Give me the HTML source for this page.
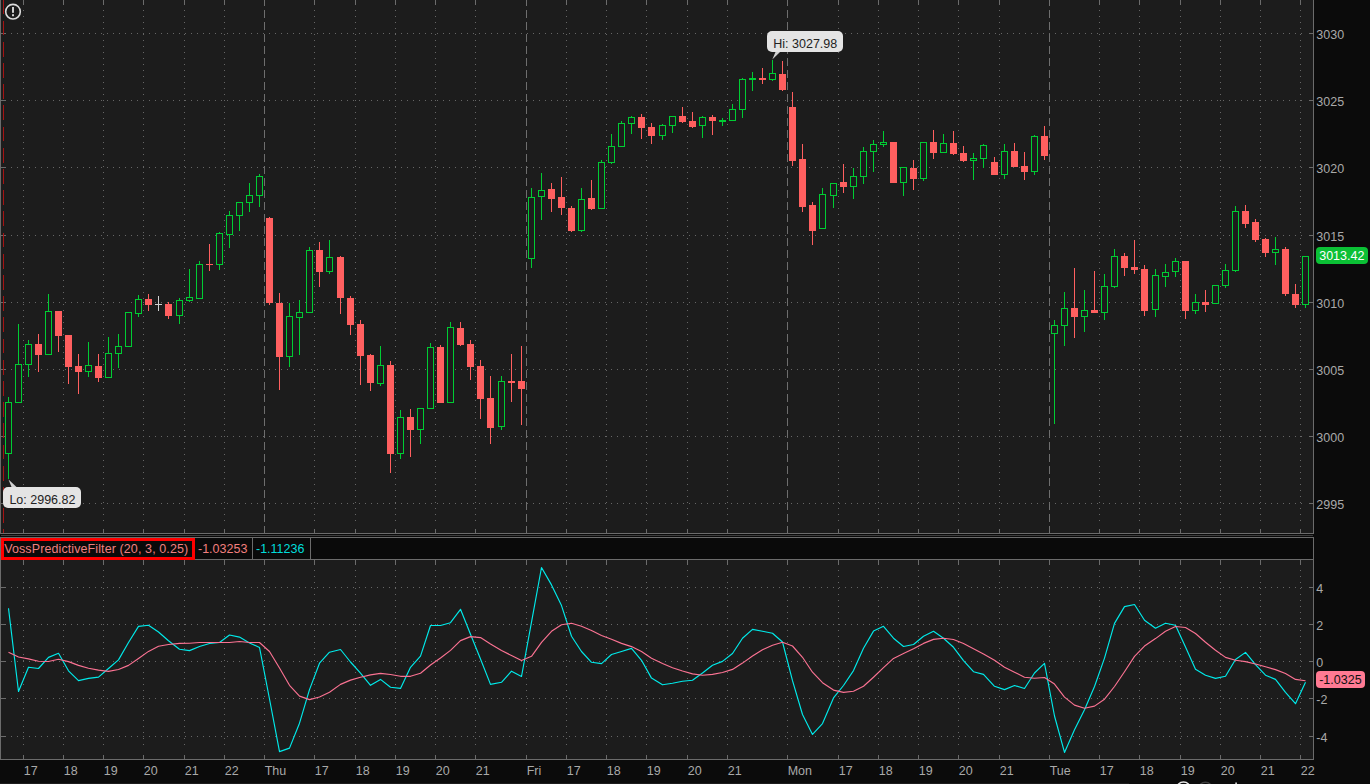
<!DOCTYPE html>
<html><head><meta charset="utf-8"><title>chart</title>
<style>html,body{margin:0;padding:0;background:#0b0b0b;width:1370px;height:784px;overflow:hidden;font-family:"Liberation Sans",sans-serif}</style>
</head><body>
<svg width="1370" height="784" viewBox="0 0 1370 784" style="position:absolute;left:0;top:0">
<rect x="0" y="0" width="1370" height="784" fill="#0b0b0b"/>
<g shape-rendering="crispEdges">
<rect x="0" y="0" width="1314" height="534" fill="#1c1c1c"/>
<rect x="0" y="560" width="1314" height="200" fill="#1c1c1c"/>
<rect x="0" y="537" width="1314" height="23" fill="#0a0a0a"/>
<rect x="0" y="534" width="1314" height="3" fill="#0a0a0a"/>
<rect x="1" y="535" width="1312" height="1" fill="#3c3c3c"/>
<rect x="0" y="0" width="1" height="534" fill="#6b6b6b"/>
<rect x="1313" y="0" width="1" height="534" fill="#6b6b6b"/>
<rect x="0" y="533" width="1314" height="1" fill="#6b6b6b"/>
<rect x="0" y="537" width="1314" height="1" fill="#6b6b6b"/>
<rect x="0" y="559" width="1314" height="1" fill="#6b6b6b"/>
<rect x="0" y="537" width="1" height="223" fill="#6b6b6b"/>
<rect x="1313" y="537" width="1" height="223" fill="#6b6b6b"/>
<rect x="0" y="759" width="1314" height="1" fill="#6b6b6b"/>
<rect x="252" y="538" width="1" height="21" fill="#6b6b6b"/>
<rect x="310" y="538" width="1" height="21" fill="#6b6b6b"/>
<rect x="0" y="783" width="1129" height="1" fill="#1c1c1c"/>
<rect x="23" y="0" width="1" height="5" fill="#6b6b6b"/>
<line x1="23.5" y1="10" x2="23.5" y2="521" stroke="#666666" stroke-width="1" stroke-dasharray="1 5"/>
<rect x="23" y="529" width="1" height="4" fill="#6b6b6b"/>
<rect x="23" y="560" width="1" height="5" fill="#6b6b6b"/>
<line x1="23.5" y1="570" x2="23.5" y2="745" stroke="#666666" stroke-width="1" stroke-dasharray="1 5"/>
<rect x="23" y="755" width="1" height="4" fill="#6b6b6b"/>
<rect x="63" y="0" width="1" height="5" fill="#6b6b6b"/>
<line x1="63.5" y1="10" x2="63.5" y2="521" stroke="#666666" stroke-width="1" stroke-dasharray="1 5"/>
<rect x="63" y="529" width="1" height="4" fill="#6b6b6b"/>
<rect x="63" y="560" width="1" height="5" fill="#6b6b6b"/>
<line x1="63.5" y1="570" x2="63.5" y2="745" stroke="#666666" stroke-width="1" stroke-dasharray="1 5"/>
<rect x="63" y="755" width="1" height="4" fill="#6b6b6b"/>
<rect x="103" y="0" width="1" height="5" fill="#6b6b6b"/>
<line x1="103.5" y1="10" x2="103.5" y2="521" stroke="#666666" stroke-width="1" stroke-dasharray="1 5"/>
<rect x="103" y="529" width="1" height="4" fill="#6b6b6b"/>
<rect x="103" y="560" width="1" height="5" fill="#6b6b6b"/>
<line x1="103.5" y1="570" x2="103.5" y2="745" stroke="#666666" stroke-width="1" stroke-dasharray="1 5"/>
<rect x="103" y="755" width="1" height="4" fill="#6b6b6b"/>
<rect x="143" y="0" width="1" height="5" fill="#6b6b6b"/>
<line x1="143.5" y1="10" x2="143.5" y2="521" stroke="#666666" stroke-width="1" stroke-dasharray="1 5"/>
<rect x="143" y="529" width="1" height="4" fill="#6b6b6b"/>
<rect x="143" y="560" width="1" height="5" fill="#6b6b6b"/>
<line x1="143.5" y1="570" x2="143.5" y2="745" stroke="#666666" stroke-width="1" stroke-dasharray="1 5"/>
<rect x="143" y="755" width="1" height="4" fill="#6b6b6b"/>
<rect x="184" y="0" width="1" height="5" fill="#6b6b6b"/>
<line x1="184.5" y1="10" x2="184.5" y2="521" stroke="#666666" stroke-width="1" stroke-dasharray="1 5"/>
<rect x="184" y="529" width="1" height="4" fill="#6b6b6b"/>
<rect x="184" y="560" width="1" height="5" fill="#6b6b6b"/>
<line x1="184.5" y1="570" x2="184.5" y2="745" stroke="#666666" stroke-width="1" stroke-dasharray="1 5"/>
<rect x="184" y="755" width="1" height="4" fill="#6b6b6b"/>
<rect x="224" y="0" width="1" height="5" fill="#6b6b6b"/>
<line x1="224.5" y1="10" x2="224.5" y2="521" stroke="#666666" stroke-width="1" stroke-dasharray="1 5"/>
<rect x="224" y="529" width="1" height="4" fill="#6b6b6b"/>
<rect x="224" y="560" width="1" height="5" fill="#6b6b6b"/>
<line x1="224.5" y1="570" x2="224.5" y2="745" stroke="#666666" stroke-width="1" stroke-dasharray="1 5"/>
<rect x="224" y="755" width="1" height="4" fill="#6b6b6b"/>
<line x1="264.5" y1="0" x2="264.5" y2="533" stroke="#6e6e6e" stroke-width="1" stroke-dasharray="8 4" stroke-dashoffset="2.5"/>
<rect x="264" y="560" width="1" height="5" fill="#6b6b6b"/>
<line x1="264.5" y1="570" x2="264.5" y2="745" stroke="#666666" stroke-width="1" stroke-dasharray="1 5"/>
<rect x="264" y="755" width="1" height="4" fill="#6b6b6b"/>
<rect x="314" y="0" width="1" height="5" fill="#6b6b6b"/>
<line x1="314.5" y1="10" x2="314.5" y2="521" stroke="#666666" stroke-width="1" stroke-dasharray="1 5"/>
<rect x="314" y="529" width="1" height="4" fill="#6b6b6b"/>
<rect x="314" y="560" width="1" height="5" fill="#6b6b6b"/>
<line x1="314.5" y1="570" x2="314.5" y2="745" stroke="#666666" stroke-width="1" stroke-dasharray="1 5"/>
<rect x="314" y="755" width="1" height="4" fill="#6b6b6b"/>
<rect x="355" y="0" width="1" height="5" fill="#6b6b6b"/>
<line x1="355.5" y1="10" x2="355.5" y2="521" stroke="#666666" stroke-width="1" stroke-dasharray="1 5"/>
<rect x="355" y="529" width="1" height="4" fill="#6b6b6b"/>
<rect x="355" y="560" width="1" height="5" fill="#6b6b6b"/>
<line x1="355.5" y1="570" x2="355.5" y2="745" stroke="#666666" stroke-width="1" stroke-dasharray="1 5"/>
<rect x="355" y="755" width="1" height="4" fill="#6b6b6b"/>
<rect x="395" y="0" width="1" height="5" fill="#6b6b6b"/>
<line x1="395.5" y1="10" x2="395.5" y2="521" stroke="#666666" stroke-width="1" stroke-dasharray="1 5"/>
<rect x="395" y="529" width="1" height="4" fill="#6b6b6b"/>
<rect x="395" y="560" width="1" height="5" fill="#6b6b6b"/>
<line x1="395.5" y1="570" x2="395.5" y2="745" stroke="#666666" stroke-width="1" stroke-dasharray="1 5"/>
<rect x="395" y="755" width="1" height="4" fill="#6b6b6b"/>
<rect x="435" y="0" width="1" height="5" fill="#6b6b6b"/>
<line x1="435.5" y1="10" x2="435.5" y2="521" stroke="#666666" stroke-width="1" stroke-dasharray="1 5"/>
<rect x="435" y="529" width="1" height="4" fill="#6b6b6b"/>
<rect x="435" y="560" width="1" height="5" fill="#6b6b6b"/>
<line x1="435.5" y1="570" x2="435.5" y2="745" stroke="#666666" stroke-width="1" stroke-dasharray="1 5"/>
<rect x="435" y="755" width="1" height="4" fill="#6b6b6b"/>
<rect x="475" y="0" width="1" height="5" fill="#6b6b6b"/>
<line x1="475.5" y1="10" x2="475.5" y2="521" stroke="#666666" stroke-width="1" stroke-dasharray="1 5"/>
<rect x="475" y="529" width="1" height="4" fill="#6b6b6b"/>
<rect x="475" y="560" width="1" height="5" fill="#6b6b6b"/>
<line x1="475.5" y1="570" x2="475.5" y2="745" stroke="#666666" stroke-width="1" stroke-dasharray="1 5"/>
<rect x="475" y="755" width="1" height="4" fill="#6b6b6b"/>
<line x1="526.5" y1="0" x2="526.5" y2="533" stroke="#6e6e6e" stroke-width="1" stroke-dasharray="8 4" stroke-dashoffset="2.5"/>
<rect x="526" y="560" width="1" height="5" fill="#6b6b6b"/>
<line x1="526.5" y1="570" x2="526.5" y2="745" stroke="#666666" stroke-width="1" stroke-dasharray="1 5"/>
<rect x="526" y="755" width="1" height="4" fill="#6b6b6b"/>
<rect x="566" y="0" width="1" height="5" fill="#6b6b6b"/>
<line x1="566.5" y1="10" x2="566.5" y2="521" stroke="#666666" stroke-width="1" stroke-dasharray="1 5"/>
<rect x="566" y="529" width="1" height="4" fill="#6b6b6b"/>
<rect x="566" y="560" width="1" height="5" fill="#6b6b6b"/>
<line x1="566.5" y1="570" x2="566.5" y2="745" stroke="#666666" stroke-width="1" stroke-dasharray="1 5"/>
<rect x="566" y="755" width="1" height="4" fill="#6b6b6b"/>
<rect x="606" y="0" width="1" height="5" fill="#6b6b6b"/>
<line x1="606.5" y1="10" x2="606.5" y2="521" stroke="#666666" stroke-width="1" stroke-dasharray="1 5"/>
<rect x="606" y="529" width="1" height="4" fill="#6b6b6b"/>
<rect x="606" y="560" width="1" height="5" fill="#6b6b6b"/>
<line x1="606.5" y1="570" x2="606.5" y2="745" stroke="#666666" stroke-width="1" stroke-dasharray="1 5"/>
<rect x="606" y="755" width="1" height="4" fill="#6b6b6b"/>
<rect x="646" y="0" width="1" height="5" fill="#6b6b6b"/>
<line x1="646.5" y1="10" x2="646.5" y2="521" stroke="#666666" stroke-width="1" stroke-dasharray="1 5"/>
<rect x="646" y="529" width="1" height="4" fill="#6b6b6b"/>
<rect x="646" y="560" width="1" height="5" fill="#6b6b6b"/>
<line x1="646.5" y1="570" x2="646.5" y2="745" stroke="#666666" stroke-width="1" stroke-dasharray="1 5"/>
<rect x="646" y="755" width="1" height="4" fill="#6b6b6b"/>
<rect x="687" y="0" width="1" height="5" fill="#6b6b6b"/>
<line x1="687.5" y1="10" x2="687.5" y2="521" stroke="#666666" stroke-width="1" stroke-dasharray="1 5"/>
<rect x="687" y="529" width="1" height="4" fill="#6b6b6b"/>
<rect x="687" y="560" width="1" height="5" fill="#6b6b6b"/>
<line x1="687.5" y1="570" x2="687.5" y2="745" stroke="#666666" stroke-width="1" stroke-dasharray="1 5"/>
<rect x="687" y="755" width="1" height="4" fill="#6b6b6b"/>
<rect x="727" y="0" width="1" height="5" fill="#6b6b6b"/>
<line x1="727.5" y1="10" x2="727.5" y2="521" stroke="#666666" stroke-width="1" stroke-dasharray="1 5"/>
<rect x="727" y="529" width="1" height="4" fill="#6b6b6b"/>
<rect x="727" y="560" width="1" height="5" fill="#6b6b6b"/>
<line x1="727.5" y1="570" x2="727.5" y2="745" stroke="#666666" stroke-width="1" stroke-dasharray="1 5"/>
<rect x="727" y="755" width="1" height="4" fill="#6b6b6b"/>
<line x1="787.5" y1="0" x2="787.5" y2="533" stroke="#6e6e6e" stroke-width="1" stroke-dasharray="8 4" stroke-dashoffset="2.5"/>
<rect x="787" y="560" width="1" height="5" fill="#6b6b6b"/>
<line x1="787.5" y1="570" x2="787.5" y2="745" stroke="#666666" stroke-width="1" stroke-dasharray="1 5"/>
<rect x="787" y="755" width="1" height="4" fill="#6b6b6b"/>
<rect x="838" y="0" width="1" height="5" fill="#6b6b6b"/>
<line x1="838.5" y1="10" x2="838.5" y2="521" stroke="#666666" stroke-width="1" stroke-dasharray="1 5"/>
<rect x="838" y="529" width="1" height="4" fill="#6b6b6b"/>
<rect x="838" y="560" width="1" height="5" fill="#6b6b6b"/>
<line x1="838.5" y1="570" x2="838.5" y2="745" stroke="#666666" stroke-width="1" stroke-dasharray="1 5"/>
<rect x="838" y="755" width="1" height="4" fill="#6b6b6b"/>
<rect x="878" y="0" width="1" height="5" fill="#6b6b6b"/>
<line x1="878.5" y1="10" x2="878.5" y2="521" stroke="#666666" stroke-width="1" stroke-dasharray="1 5"/>
<rect x="878" y="529" width="1" height="4" fill="#6b6b6b"/>
<rect x="878" y="560" width="1" height="5" fill="#6b6b6b"/>
<line x1="878.5" y1="570" x2="878.5" y2="745" stroke="#666666" stroke-width="1" stroke-dasharray="1 5"/>
<rect x="878" y="755" width="1" height="4" fill="#6b6b6b"/>
<rect x="918" y="0" width="1" height="5" fill="#6b6b6b"/>
<line x1="918.5" y1="10" x2="918.5" y2="521" stroke="#666666" stroke-width="1" stroke-dasharray="1 5"/>
<rect x="918" y="529" width="1" height="4" fill="#6b6b6b"/>
<rect x="918" y="560" width="1" height="5" fill="#6b6b6b"/>
<line x1="918.5" y1="570" x2="918.5" y2="745" stroke="#666666" stroke-width="1" stroke-dasharray="1 5"/>
<rect x="918" y="755" width="1" height="4" fill="#6b6b6b"/>
<rect x="958" y="0" width="1" height="5" fill="#6b6b6b"/>
<line x1="958.5" y1="10" x2="958.5" y2="521" stroke="#666666" stroke-width="1" stroke-dasharray="1 5"/>
<rect x="958" y="529" width="1" height="4" fill="#6b6b6b"/>
<rect x="958" y="560" width="1" height="5" fill="#6b6b6b"/>
<line x1="958.5" y1="570" x2="958.5" y2="745" stroke="#666666" stroke-width="1" stroke-dasharray="1 5"/>
<rect x="958" y="755" width="1" height="4" fill="#6b6b6b"/>
<rect x="999" y="0" width="1" height="5" fill="#6b6b6b"/>
<line x1="999.5" y1="10" x2="999.5" y2="521" stroke="#666666" stroke-width="1" stroke-dasharray="1 5"/>
<rect x="999" y="529" width="1" height="4" fill="#6b6b6b"/>
<rect x="999" y="560" width="1" height="5" fill="#6b6b6b"/>
<line x1="999.5" y1="570" x2="999.5" y2="745" stroke="#666666" stroke-width="1" stroke-dasharray="1 5"/>
<rect x="999" y="755" width="1" height="4" fill="#6b6b6b"/>
<line x1="1049.5" y1="0" x2="1049.5" y2="533" stroke="#6e6e6e" stroke-width="1" stroke-dasharray="8 4" stroke-dashoffset="2.5"/>
<rect x="1049" y="560" width="1" height="5" fill="#6b6b6b"/>
<line x1="1049.5" y1="570" x2="1049.5" y2="745" stroke="#666666" stroke-width="1" stroke-dasharray="1 5"/>
<rect x="1049" y="755" width="1" height="4" fill="#6b6b6b"/>
<rect x="1099" y="0" width="1" height="5" fill="#6b6b6b"/>
<line x1="1099.5" y1="10" x2="1099.5" y2="521" stroke="#666666" stroke-width="1" stroke-dasharray="1 5"/>
<rect x="1099" y="529" width="1" height="4" fill="#6b6b6b"/>
<rect x="1099" y="560" width="1" height="5" fill="#6b6b6b"/>
<line x1="1099.5" y1="570" x2="1099.5" y2="745" stroke="#666666" stroke-width="1" stroke-dasharray="1 5"/>
<rect x="1099" y="755" width="1" height="4" fill="#6b6b6b"/>
<rect x="1139" y="0" width="1" height="5" fill="#6b6b6b"/>
<line x1="1139.5" y1="10" x2="1139.5" y2="521" stroke="#666666" stroke-width="1" stroke-dasharray="1 5"/>
<rect x="1139" y="529" width="1" height="4" fill="#6b6b6b"/>
<rect x="1139" y="560" width="1" height="5" fill="#6b6b6b"/>
<line x1="1139.5" y1="570" x2="1139.5" y2="745" stroke="#666666" stroke-width="1" stroke-dasharray="1 5"/>
<rect x="1139" y="755" width="1" height="4" fill="#6b6b6b"/>
<rect x="1180" y="0" width="1" height="5" fill="#6b6b6b"/>
<line x1="1180.5" y1="10" x2="1180.5" y2="521" stroke="#666666" stroke-width="1" stroke-dasharray="1 5"/>
<rect x="1180" y="529" width="1" height="4" fill="#6b6b6b"/>
<rect x="1180" y="560" width="1" height="5" fill="#6b6b6b"/>
<line x1="1180.5" y1="570" x2="1180.5" y2="745" stroke="#666666" stroke-width="1" stroke-dasharray="1 5"/>
<rect x="1180" y="755" width="1" height="4" fill="#6b6b6b"/>
<rect x="1220" y="0" width="1" height="5" fill="#6b6b6b"/>
<line x1="1220.5" y1="10" x2="1220.5" y2="521" stroke="#666666" stroke-width="1" stroke-dasharray="1 5"/>
<rect x="1220" y="529" width="1" height="4" fill="#6b6b6b"/>
<rect x="1220" y="560" width="1" height="5" fill="#6b6b6b"/>
<line x1="1220.5" y1="570" x2="1220.5" y2="745" stroke="#666666" stroke-width="1" stroke-dasharray="1 5"/>
<rect x="1220" y="755" width="1" height="4" fill="#6b6b6b"/>
<rect x="1260" y="0" width="1" height="5" fill="#6b6b6b"/>
<line x1="1260.5" y1="10" x2="1260.5" y2="521" stroke="#666666" stroke-width="1" stroke-dasharray="1 5"/>
<rect x="1260" y="529" width="1" height="4" fill="#6b6b6b"/>
<rect x="1260" y="560" width="1" height="5" fill="#6b6b6b"/>
<line x1="1260.5" y1="570" x2="1260.5" y2="745" stroke="#666666" stroke-width="1" stroke-dasharray="1 5"/>
<rect x="1260" y="755" width="1" height="4" fill="#6b6b6b"/>
<rect x="1300" y="0" width="1" height="5" fill="#6b6b6b"/>
<line x1="1300.5" y1="10" x2="1300.5" y2="521" stroke="#666666" stroke-width="1" stroke-dasharray="1 5"/>
<rect x="1300" y="529" width="1" height="4" fill="#6b6b6b"/>
<rect x="1300" y="560" width="1" height="5" fill="#6b6b6b"/>
<line x1="1300.5" y1="570" x2="1300.5" y2="745" stroke="#666666" stroke-width="1" stroke-dasharray="1 5"/>
<rect x="1300" y="755" width="1" height="4" fill="#6b6b6b"/>
<rect x="1" y="33" width="5" height="1" fill="#6b6b6b"/>
<line x1="11" y1="33.5" x2="1302" y2="33.5" stroke="#666666" stroke-width="1" stroke-dasharray="1 5"/>
<rect x="1309" y="33" width="4" height="1" fill="#6b6b6b"/>
<rect x="1" y="100" width="5" height="1" fill="#6b6b6b"/>
<line x1="11" y1="100.5" x2="1302" y2="100.5" stroke="#666666" stroke-width="1" stroke-dasharray="1 5"/>
<rect x="1309" y="100" width="4" height="1" fill="#6b6b6b"/>
<rect x="1" y="167" width="5" height="1" fill="#6b6b6b"/>
<line x1="11" y1="167.5" x2="1302" y2="167.5" stroke="#666666" stroke-width="1" stroke-dasharray="1 5"/>
<rect x="1309" y="167" width="4" height="1" fill="#6b6b6b"/>
<rect x="1" y="235" width="5" height="1" fill="#6b6b6b"/>
<line x1="11" y1="235.5" x2="1302" y2="235.5" stroke="#666666" stroke-width="1" stroke-dasharray="1 5"/>
<rect x="1309" y="235" width="4" height="1" fill="#6b6b6b"/>
<rect x="1" y="302" width="5" height="1" fill="#6b6b6b"/>
<line x1="11" y1="302.5" x2="1302" y2="302.5" stroke="#666666" stroke-width="1" stroke-dasharray="1 5"/>
<rect x="1309" y="302" width="4" height="1" fill="#6b6b6b"/>
<rect x="1" y="369" width="5" height="1" fill="#6b6b6b"/>
<line x1="11" y1="369.5" x2="1302" y2="369.5" stroke="#666666" stroke-width="1" stroke-dasharray="1 5"/>
<rect x="1309" y="369" width="4" height="1" fill="#6b6b6b"/>
<rect x="1" y="436" width="5" height="1" fill="#6b6b6b"/>
<line x1="11" y1="436.5" x2="1302" y2="436.5" stroke="#666666" stroke-width="1" stroke-dasharray="1 5"/>
<rect x="1309" y="436" width="4" height="1" fill="#6b6b6b"/>
<rect x="1" y="503" width="5" height="1" fill="#6b6b6b"/>
<line x1="11" y1="503.5" x2="1302" y2="503.5" stroke="#666666" stroke-width="1" stroke-dasharray="1 5"/>
<rect x="1309" y="503" width="4" height="1" fill="#6b6b6b"/>
<rect x="1" y="587" width="5" height="1" fill="#6b6b6b"/>
<line x1="11" y1="587.5" x2="1302" y2="587.5" stroke="#666666" stroke-width="1" stroke-dasharray="1 5"/>
<rect x="1309" y="587" width="4" height="1" fill="#6b6b6b"/>
<rect x="1" y="624" width="5" height="1" fill="#6b6b6b"/>
<line x1="11" y1="624.5" x2="1302" y2="624.5" stroke="#666666" stroke-width="1" stroke-dasharray="1 5"/>
<rect x="1309" y="624" width="4" height="1" fill="#6b6b6b"/>
<rect x="1" y="661" width="5" height="1" fill="#6b6b6b"/>
<line x1="11" y1="661.5" x2="1302" y2="661.5" stroke="#666666" stroke-width="1" stroke-dasharray="1 5"/>
<rect x="1309" y="661" width="4" height="1" fill="#6b6b6b"/>
<rect x="1" y="698" width="5" height="1" fill="#6b6b6b"/>
<line x1="11" y1="698.5" x2="1302" y2="698.5" stroke="#666666" stroke-width="1" stroke-dasharray="1 5"/>
<rect x="1309" y="698" width="4" height="1" fill="#6b6b6b"/>
<rect x="1" y="736" width="5" height="1" fill="#6b6b6b"/>
<line x1="11" y1="736.5" x2="1302" y2="736.5" stroke="#666666" stroke-width="1" stroke-dasharray="1 5"/>
<rect x="1309" y="736" width="4" height="1" fill="#6b6b6b"/>
<line x1="3.5" y1="0" x2="3.5" y2="533" stroke="#a51414" stroke-width="1" stroke-dasharray="14.9 6.3" stroke-dashoffset="0.7"/>
<rect x="8" y="397" width="1" height="82" fill="#00cc33"/>
<rect x="5.5" y="402.5" width="6" height="51" fill="#1c1c1c" stroke="#00cc33" stroke-width="1"/>
<rect x="18" y="324" width="1" height="79" fill="#00cc33"/>
<rect x="15.5" y="364.5" width="6" height="38" fill="#1c1c1c" stroke="#00cc33" stroke-width="1"/>
<rect x="28" y="340" width="1" height="37" fill="#00cc33"/>
<rect x="25.5" y="344.5" width="6" height="20" fill="#1c1c1c" stroke="#00cc33" stroke-width="1"/>
<rect x="38" y="334" width="1" height="38" fill="#ff5f5f"/>
<rect x="35" y="344" width="7" height="11" fill="#ff5f5f"/>
<rect x="48" y="294" width="1" height="61" fill="#00cc33"/>
<rect x="45.5" y="311.5" width="6" height="43" fill="#1c1c1c" stroke="#00cc33" stroke-width="1"/>
<rect x="58" y="311" width="1" height="41" fill="#ff5f5f"/>
<rect x="55" y="311" width="7" height="25" fill="#ff5f5f"/>
<rect x="68" y="335" width="1" height="49" fill="#ff5f5f"/>
<rect x="65" y="335" width="7" height="32" fill="#ff5f5f"/>
<rect x="78" y="354" width="1" height="40" fill="#ff5f5f"/>
<rect x="75" y="366" width="7" height="6" fill="#ff5f5f"/>
<rect x="88" y="342" width="1" height="35" fill="#00cc33"/>
<rect x="85.5" y="365.5" width="6" height="6" fill="#1c1c1c" stroke="#00cc33" stroke-width="1"/>
<rect x="98" y="354" width="1" height="28" fill="#ff5f5f"/>
<rect x="95" y="366" width="7" height="12" fill="#ff5f5f"/>
<rect x="108" y="337" width="1" height="41" fill="#00cc33"/>
<rect x="105.5" y="353.5" width="6" height="24" fill="#1c1c1c" stroke="#00cc33" stroke-width="1"/>
<rect x="118" y="334" width="1" height="34" fill="#00cc33"/>
<rect x="115.5" y="346.5" width="6" height="7" fill="#1c1c1c" stroke="#00cc33" stroke-width="1"/>
<rect x="128" y="312" width="1" height="35" fill="#00cc33"/>
<rect x="125.5" y="312.5" width="6" height="34" fill="#1c1c1c" stroke="#00cc33" stroke-width="1"/>
<rect x="138" y="295" width="1" height="22" fill="#00cc33"/>
<rect x="135.5" y="299.5" width="6" height="14" fill="#1c1c1c" stroke="#00cc33" stroke-width="1"/>
<rect x="148" y="294" width="1" height="17" fill="#ff5f5f"/>
<rect x="145" y="299" width="7" height="6" fill="#ff5f5f"/>
<rect x="158" y="296" width="1" height="15" fill="#d0d0d0"/>
<rect x="155" y="304" width="7" height="1" fill="#d0d0d0"/>
<rect x="168" y="302" width="1" height="17" fill="#ff5f5f"/>
<rect x="165" y="304" width="7" height="12" fill="#ff5f5f"/>
<rect x="179" y="298" width="1" height="26" fill="#00cc33"/>
<rect x="176.5" y="300.5" width="6" height="15" fill="#1c1c1c" stroke="#00cc33" stroke-width="1"/>
<rect x="189" y="269" width="1" height="33" fill="#00cc33"/>
<rect x="186.5" y="297.5" width="6" height="3" fill="#1c1c1c" stroke="#00cc33" stroke-width="1"/>
<rect x="199" y="261" width="1" height="38" fill="#00cc33"/>
<rect x="196.5" y="264.5" width="6" height="34" fill="#1c1c1c" stroke="#00cc33" stroke-width="1"/>
<rect x="209" y="244" width="1" height="27" fill="#ff5f5f"/>
<rect x="206" y="264" width="7" height="1" fill="#ff5f5f"/>
<rect x="219" y="232" width="1" height="38" fill="#00cc33"/>
<rect x="216.5" y="233.5" width="6" height="31" fill="#1c1c1c" stroke="#00cc33" stroke-width="1"/>
<rect x="229" y="211" width="1" height="37" fill="#00cc33"/>
<rect x="226.5" y="215.5" width="6" height="19" fill="#1c1c1c" stroke="#00cc33" stroke-width="1"/>
<rect x="239" y="202" width="1" height="29" fill="#00cc33"/>
<rect x="236.5" y="202.5" width="6" height="13" fill="#1c1c1c" stroke="#00cc33" stroke-width="1"/>
<rect x="249" y="183" width="1" height="29" fill="#00cc33"/>
<rect x="246.5" y="195.5" width="6" height="7" fill="#1c1c1c" stroke="#00cc33" stroke-width="1"/>
<rect x="259" y="174" width="1" height="33" fill="#00cc33"/>
<rect x="256.5" y="176.5" width="6" height="19" fill="#1c1c1c" stroke="#00cc33" stroke-width="1"/>
<rect x="269" y="217" width="1" height="88" fill="#ff5f5f"/>
<rect x="266" y="218" width="7" height="85" fill="#ff5f5f"/>
<rect x="279" y="293" width="1" height="97" fill="#ff5f5f"/>
<rect x="276" y="303" width="7" height="54" fill="#ff5f5f"/>
<rect x="289" y="303" width="1" height="64" fill="#00cc33"/>
<rect x="286.5" y="316.5" width="6" height="40" fill="#1c1c1c" stroke="#00cc33" stroke-width="1"/>
<rect x="299" y="300" width="1" height="55" fill="#00cc33"/>
<rect x="296.5" y="312.5" width="6" height="5" fill="#1c1c1c" stroke="#00cc33" stroke-width="1"/>
<rect x="309" y="247" width="1" height="66" fill="#00cc33"/>
<rect x="306.5" y="250.5" width="6" height="62" fill="#1c1c1c" stroke="#00cc33" stroke-width="1"/>
<rect x="319" y="242" width="1" height="45" fill="#ff5f5f"/>
<rect x="316" y="250" width="7" height="22" fill="#ff5f5f"/>
<rect x="329" y="240" width="1" height="34" fill="#00cc33"/>
<rect x="326.5" y="257.5" width="6" height="14" fill="#1c1c1c" stroke="#00cc33" stroke-width="1"/>
<rect x="340" y="256" width="1" height="58" fill="#ff5f5f"/>
<rect x="337" y="257" width="7" height="41" fill="#ff5f5f"/>
<rect x="350" y="296" width="1" height="39" fill="#ff5f5f"/>
<rect x="347" y="298" width="7" height="27" fill="#ff5f5f"/>
<rect x="360" y="320" width="1" height="65" fill="#ff5f5f"/>
<rect x="357" y="324" width="7" height="32" fill="#ff5f5f"/>
<rect x="370" y="354" width="1" height="37" fill="#ff5f5f"/>
<rect x="367" y="355" width="7" height="28" fill="#ff5f5f"/>
<rect x="380" y="346" width="1" height="40" fill="#00cc33"/>
<rect x="377.5" y="365.5" width="6" height="18" fill="#1c1c1c" stroke="#00cc33" stroke-width="1"/>
<rect x="390" y="361" width="1" height="112" fill="#ff5f5f"/>
<rect x="387" y="365" width="7" height="89" fill="#ff5f5f"/>
<rect x="400" y="410" width="1" height="49" fill="#00cc33"/>
<rect x="397.5" y="417.5" width="6" height="36" fill="#1c1c1c" stroke="#00cc33" stroke-width="1"/>
<rect x="410" y="409" width="1" height="48" fill="#ff5f5f"/>
<rect x="407" y="417" width="7" height="13" fill="#ff5f5f"/>
<rect x="420" y="408" width="1" height="36" fill="#00cc33"/>
<rect x="417.5" y="408.5" width="6" height="21" fill="#1c1c1c" stroke="#00cc33" stroke-width="1"/>
<rect x="430" y="343" width="1" height="66" fill="#00cc33"/>
<rect x="427.5" y="347.5" width="6" height="61" fill="#1c1c1c" stroke="#00cc33" stroke-width="1"/>
<rect x="440" y="345" width="1" height="58" fill="#ff5f5f"/>
<rect x="437" y="347" width="7" height="56" fill="#ff5f5f"/>
<rect x="450" y="322" width="1" height="81" fill="#00cc33"/>
<rect x="447.5" y="327.5" width="6" height="75" fill="#1c1c1c" stroke="#00cc33" stroke-width="1"/>
<rect x="460" y="322" width="1" height="24" fill="#ff5f5f"/>
<rect x="457" y="328" width="7" height="17" fill="#ff5f5f"/>
<rect x="470" y="340" width="1" height="40" fill="#ff5f5f"/>
<rect x="467" y="344" width="7" height="23" fill="#ff5f5f"/>
<rect x="480" y="360" width="1" height="59" fill="#ff5f5f"/>
<rect x="477" y="366" width="7" height="33" fill="#ff5f5f"/>
<rect x="490" y="376" width="1" height="68" fill="#ff5f5f"/>
<rect x="487" y="398" width="7" height="30" fill="#ff5f5f"/>
<rect x="501" y="376" width="1" height="54" fill="#00cc33"/>
<rect x="498.5" y="381.5" width="6" height="45" fill="#1c1c1c" stroke="#00cc33" stroke-width="1"/>
<rect x="511" y="354" width="1" height="48" fill="#ff5f5f"/>
<rect x="508" y="381" width="7" height="2" fill="#ff5f5f"/>
<rect x="521" y="346" width="1" height="79" fill="#ff5f5f"/>
<rect x="518" y="381" width="7" height="8" fill="#ff5f5f"/>
<rect x="531" y="188" width="1" height="80" fill="#00cc33"/>
<rect x="528.5" y="197.5" width="6" height="61" fill="#1c1c1c" stroke="#00cc33" stroke-width="1"/>
<rect x="541" y="173" width="1" height="47" fill="#00cc33"/>
<rect x="538.5" y="190.5" width="6" height="6" fill="#1c1c1c" stroke="#00cc33" stroke-width="1"/>
<rect x="551" y="183" width="1" height="29" fill="#ff5f5f"/>
<rect x="548" y="189" width="7" height="10" fill="#ff5f5f"/>
<rect x="561" y="177" width="1" height="38" fill="#ff5f5f"/>
<rect x="558" y="197" width="7" height="11" fill="#ff5f5f"/>
<rect x="571" y="206" width="1" height="26" fill="#ff5f5f"/>
<rect x="568" y="208" width="7" height="23" fill="#ff5f5f"/>
<rect x="581" y="188" width="1" height="44" fill="#00cc33"/>
<rect x="578.5" y="199.5" width="6" height="31" fill="#1c1c1c" stroke="#00cc33" stroke-width="1"/>
<rect x="591" y="180" width="1" height="30" fill="#ff5f5f"/>
<rect x="588" y="198" width="7" height="11" fill="#ff5f5f"/>
<rect x="601" y="160" width="1" height="49" fill="#00cc33"/>
<rect x="598.5" y="162.5" width="6" height="46" fill="#1c1c1c" stroke="#00cc33" stroke-width="1"/>
<rect x="611" y="134" width="1" height="30" fill="#00cc33"/>
<rect x="608.5" y="146.5" width="6" height="16" fill="#1c1c1c" stroke="#00cc33" stroke-width="1"/>
<rect x="621" y="121" width="1" height="26" fill="#00cc33"/>
<rect x="618.5" y="123.5" width="6" height="23" fill="#1c1c1c" stroke="#00cc33" stroke-width="1"/>
<rect x="631" y="116" width="1" height="18" fill="#00cc33"/>
<rect x="628.5" y="117.5" width="6" height="6" fill="#1c1c1c" stroke="#00cc33" stroke-width="1"/>
<rect x="641" y="114" width="1" height="25" fill="#ff5f5f"/>
<rect x="638" y="117" width="7" height="11" fill="#ff5f5f"/>
<rect x="651" y="123" width="1" height="21" fill="#ff5f5f"/>
<rect x="648" y="127" width="7" height="9" fill="#ff5f5f"/>
<rect x="662" y="124" width="1" height="16" fill="#00cc33"/>
<rect x="659.5" y="125.5" width="6" height="10" fill="#1c1c1c" stroke="#00cc33" stroke-width="1"/>
<rect x="672" y="116" width="1" height="17" fill="#00cc33"/>
<rect x="669.5" y="116.5" width="6" height="9" fill="#1c1c1c" stroke="#00cc33" stroke-width="1"/>
<rect x="682" y="107" width="1" height="16" fill="#ff5f5f"/>
<rect x="679" y="116" width="7" height="6" fill="#ff5f5f"/>
<rect x="692" y="112" width="1" height="16" fill="#ff5f5f"/>
<rect x="689" y="121" width="7" height="6" fill="#ff5f5f"/>
<rect x="702" y="116" width="1" height="22" fill="#00cc33"/>
<rect x="699.5" y="117.5" width="6" height="8" fill="#1c1c1c" stroke="#00cc33" stroke-width="1"/>
<rect x="712" y="115" width="1" height="20" fill="#ff5f5f"/>
<rect x="709" y="117" width="7" height="4" fill="#ff5f5f"/>
<rect x="722" y="118" width="1" height="8" fill="#00cc33"/>
<rect x="719" y="120" width="7" height="2" fill="#00cc33"/>
<rect x="732" y="104" width="1" height="17" fill="#00cc33"/>
<rect x="729.5" y="109.5" width="6" height="11" fill="#1c1c1c" stroke="#00cc33" stroke-width="1"/>
<rect x="742" y="78" width="1" height="40" fill="#00cc33"/>
<rect x="739.5" y="79.5" width="6" height="30" fill="#1c1c1c" stroke="#00cc33" stroke-width="1"/>
<rect x="752" y="72" width="1" height="19" fill="#00cc33"/>
<rect x="749" y="78" width="7" height="2" fill="#00cc33"/>
<rect x="762" y="68" width="1" height="16" fill="#ff5f5f"/>
<rect x="759" y="78" width="7" height="2" fill="#ff5f5f"/>
<rect x="772" y="60" width="1" height="21" fill="#00cc33"/>
<rect x="769.5" y="73.5" width="6" height="6" fill="#1c1c1c" stroke="#00cc33" stroke-width="1"/>
<rect x="782" y="61" width="1" height="30" fill="#ff5f5f"/>
<rect x="779" y="74" width="7" height="16" fill="#ff5f5f"/>
<rect x="792" y="92" width="1" height="74" fill="#ff5f5f"/>
<rect x="789" y="107" width="7" height="54" fill="#ff5f5f"/>
<rect x="802" y="144" width="1" height="68" fill="#ff5f5f"/>
<rect x="799" y="159" width="7" height="48" fill="#ff5f5f"/>
<rect x="812" y="202" width="1" height="43" fill="#ff5f5f"/>
<rect x="809" y="205" width="7" height="26" fill="#ff5f5f"/>
<rect x="822" y="188" width="1" height="41" fill="#00cc33"/>
<rect x="819.5" y="194.5" width="6" height="34" fill="#1c1c1c" stroke="#00cc33" stroke-width="1"/>
<rect x="833" y="183" width="1" height="25" fill="#00cc33"/>
<rect x="830.5" y="183.5" width="6" height="12" fill="#1c1c1c" stroke="#00cc33" stroke-width="1"/>
<rect x="843" y="164" width="1" height="29" fill="#ff5f5f"/>
<rect x="840" y="182" width="7" height="5" fill="#ff5f5f"/>
<rect x="853" y="168" width="1" height="31" fill="#00cc33"/>
<rect x="850.5" y="176.5" width="6" height="10" fill="#1c1c1c" stroke="#00cc33" stroke-width="1"/>
<rect x="863" y="147" width="1" height="37" fill="#00cc33"/>
<rect x="860.5" y="151.5" width="6" height="25" fill="#1c1c1c" stroke="#00cc33" stroke-width="1"/>
<rect x="873" y="140" width="1" height="32" fill="#00cc33"/>
<rect x="870.5" y="144.5" width="6" height="7" fill="#1c1c1c" stroke="#00cc33" stroke-width="1"/>
<rect x="883" y="131" width="1" height="16" fill="#00cc33"/>
<rect x="880.5" y="142.5" width="6" height="2" fill="#1c1c1c" stroke="#00cc33" stroke-width="1"/>
<rect x="893" y="142" width="1" height="41" fill="#ff5f5f"/>
<rect x="890" y="142" width="7" height="41" fill="#ff5f5f"/>
<rect x="903" y="167" width="1" height="29" fill="#00cc33"/>
<rect x="900.5" y="167.5" width="6" height="15" fill="#1c1c1c" stroke="#00cc33" stroke-width="1"/>
<rect x="913" y="160" width="1" height="30" fill="#ff5f5f"/>
<rect x="910" y="168" width="7" height="11" fill="#ff5f5f"/>
<rect x="923" y="142" width="1" height="39" fill="#00cc33"/>
<rect x="920.5" y="142.5" width="6" height="36" fill="#1c1c1c" stroke="#00cc33" stroke-width="1"/>
<rect x="933" y="130" width="1" height="29" fill="#ff5f5f"/>
<rect x="930" y="142" width="7" height="11" fill="#ff5f5f"/>
<rect x="943" y="134" width="1" height="19" fill="#00cc33"/>
<rect x="940.5" y="143.5" width="6" height="9" fill="#1c1c1c" stroke="#00cc33" stroke-width="1"/>
<rect x="953" y="131" width="1" height="24" fill="#ff5f5f"/>
<rect x="950" y="143" width="7" height="11" fill="#ff5f5f"/>
<rect x="963" y="146" width="1" height="16" fill="#ff5f5f"/>
<rect x="960" y="153" width="7" height="8" fill="#ff5f5f"/>
<rect x="973" y="153" width="1" height="27" fill="#00cc33"/>
<rect x="970.5" y="158.5" width="6" height="2" fill="#1c1c1c" stroke="#00cc33" stroke-width="1"/>
<rect x="983" y="144" width="1" height="24" fill="#00cc33"/>
<rect x="980.5" y="145.5" width="6" height="13" fill="#1c1c1c" stroke="#00cc33" stroke-width="1"/>
<rect x="994" y="157" width="1" height="18" fill="#ff5f5f"/>
<rect x="991" y="162" width="7" height="13" fill="#ff5f5f"/>
<rect x="1004" y="144" width="1" height="35" fill="#00cc33"/>
<rect x="1001.5" y="151.5" width="6" height="23" fill="#1c1c1c" stroke="#00cc33" stroke-width="1"/>
<rect x="1014" y="143" width="1" height="24" fill="#ff5f5f"/>
<rect x="1011" y="151" width="7" height="16" fill="#ff5f5f"/>
<rect x="1024" y="152" width="1" height="28" fill="#ff5f5f"/>
<rect x="1021" y="166" width="7" height="6" fill="#ff5f5f"/>
<rect x="1034" y="135" width="1" height="40" fill="#00cc33"/>
<rect x="1031.5" y="136.5" width="6" height="35" fill="#1c1c1c" stroke="#00cc33" stroke-width="1"/>
<rect x="1044" y="126" width="1" height="34" fill="#ff5f5f"/>
<rect x="1041" y="136" width="7" height="20" fill="#ff5f5f"/>
<rect x="1054" y="320" width="1" height="104" fill="#00cc33"/>
<rect x="1051.5" y="325.5" width="6" height="8" fill="#1c1c1c" stroke="#00cc33" stroke-width="1"/>
<rect x="1064" y="292" width="1" height="54" fill="#00cc33"/>
<rect x="1061.5" y="308.5" width="6" height="17" fill="#1c1c1c" stroke="#00cc33" stroke-width="1"/>
<rect x="1074" y="268" width="1" height="70" fill="#ff5f5f"/>
<rect x="1071" y="308" width="7" height="9" fill="#ff5f5f"/>
<rect x="1084" y="290" width="1" height="42" fill="#00cc33"/>
<rect x="1081.5" y="310.5" width="6" height="6" fill="#1c1c1c" stroke="#00cc33" stroke-width="1"/>
<rect x="1094" y="271" width="1" height="42" fill="#ff5f5f"/>
<rect x="1091" y="310" width="7" height="3" fill="#ff5f5f"/>
<rect x="1104" y="274" width="1" height="46" fill="#00cc33"/>
<rect x="1101.5" y="286.5" width="6" height="26" fill="#1c1c1c" stroke="#00cc33" stroke-width="1"/>
<rect x="1114" y="249" width="1" height="39" fill="#00cc33"/>
<rect x="1111.5" y="256.5" width="6" height="30" fill="#1c1c1c" stroke="#00cc33" stroke-width="1"/>
<rect x="1124" y="253" width="1" height="23" fill="#ff5f5f"/>
<rect x="1121" y="256" width="7" height="12" fill="#ff5f5f"/>
<rect x="1134" y="240" width="1" height="34" fill="#ff5f5f"/>
<rect x="1131" y="267" width="7" height="3" fill="#ff5f5f"/>
<rect x="1144" y="265" width="1" height="51" fill="#ff5f5f"/>
<rect x="1141" y="269" width="7" height="42" fill="#ff5f5f"/>
<rect x="1155" y="269" width="1" height="48" fill="#00cc33"/>
<rect x="1152.5" y="275.5" width="6" height="34" fill="#1c1c1c" stroke="#00cc33" stroke-width="1"/>
<rect x="1165" y="264" width="1" height="23" fill="#00cc33"/>
<rect x="1162.5" y="272.5" width="6" height="4" fill="#1c1c1c" stroke="#00cc33" stroke-width="1"/>
<rect x="1175" y="258" width="1" height="19" fill="#00cc33"/>
<rect x="1172.5" y="261.5" width="6" height="10" fill="#1c1c1c" stroke="#00cc33" stroke-width="1"/>
<rect x="1185" y="261" width="1" height="58" fill="#ff5f5f"/>
<rect x="1182" y="261" width="7" height="50" fill="#ff5f5f"/>
<rect x="1195" y="294" width="1" height="20" fill="#00cc33"/>
<rect x="1192.5" y="302.5" width="6" height="8" fill="#1c1c1c" stroke="#00cc33" stroke-width="1"/>
<rect x="1205" y="290" width="1" height="22" fill="#ff5f5f"/>
<rect x="1202" y="302" width="7" height="3" fill="#ff5f5f"/>
<rect x="1215" y="285" width="1" height="19" fill="#00cc33"/>
<rect x="1212.5" y="285.5" width="6" height="18" fill="#1c1c1c" stroke="#00cc33" stroke-width="1"/>
<rect x="1225" y="264" width="1" height="24" fill="#00cc33"/>
<rect x="1222.5" y="270.5" width="6" height="15" fill="#1c1c1c" stroke="#00cc33" stroke-width="1"/>
<rect x="1235" y="206" width="1" height="66" fill="#00cc33"/>
<rect x="1232.5" y="211.5" width="6" height="59" fill="#1c1c1c" stroke="#00cc33" stroke-width="1"/>
<rect x="1245" y="205" width="1" height="23" fill="#ff5f5f"/>
<rect x="1242" y="211" width="7" height="13" fill="#ff5f5f"/>
<rect x="1255" y="219" width="1" height="23" fill="#ff5f5f"/>
<rect x="1252" y="222" width="7" height="18" fill="#ff5f5f"/>
<rect x="1265" y="238" width="1" height="19" fill="#ff5f5f"/>
<rect x="1262" y="239" width="7" height="14" fill="#ff5f5f"/>
<rect x="1275" y="237" width="1" height="28" fill="#00cc33"/>
<rect x="1272.5" y="249.5" width="6" height="3" fill="#1c1c1c" stroke="#00cc33" stroke-width="1"/>
<rect x="1285" y="247" width="1" height="49" fill="#ff5f5f"/>
<rect x="1282" y="249" width="7" height="45" fill="#ff5f5f"/>
<rect x="1295" y="284" width="1" height="24" fill="#ff5f5f"/>
<rect x="1292" y="294" width="7" height="11" fill="#ff5f5f"/>
<rect x="1305" y="256" width="1" height="52" fill="#00cc33"/>
<rect x="1302.5" y="256.5" width="6" height="48" fill="#1c1c1c" stroke="#00cc33" stroke-width="1"/>
</g>
<polyline points="8.5,608.3 18.5,691.5 28.5,667.2 38.5,668.5 48.5,657.4 58.5,653.3 68.5,670.8 78.5,680.6 88.5,678.4 98.5,677.1 108.5,668.5 118.5,659.9 128.5,642.5 138.5,626.4 148.5,625.3 158.5,632.0 168.5,640.7 179.5,649.3 189.5,650.6 199.5,646.5 209.5,643.5 219.5,642.5 229.5,635.0 239.5,637.1 249.5,642.9 259.5,647.4 269.5,699.0 279.5,751.6 289.5,748.1 299.5,723.2 309.5,689.6 319.5,663.2 329.5,652.2 340.5,649.5 350.5,662.0 360.5,673.2 370.5,685.3 380.5,679.4 390.5,687.3 400.5,688.4 410.5,667.3 420.5,656.1 430.5,625.5 440.5,625.5 450.5,622.7 460.5,609.3 470.5,634.2 480.5,659.0 490.5,684.4 501.5,682.3 511.5,671.2 521.5,676.5 531.5,622.2 541.5,567.5 551.5,584.9 561.5,605.6 571.5,636.3 581.5,651.5 591.5,662.3 601.5,663.6 611.5,654.5 621.5,651.5 631.5,648.4 641.5,660.3 651.5,678.1 662.5,684.8 672.5,683.3 682.5,681.3 692.5,680.2 702.5,673.0 712.5,665.2 722.5,661.4 732.5,653.5 742.5,638.2 752.5,629.4 762.5,631.3 772.5,633.2 782.5,642.0 792.5,680.7 802.5,714.5 812.5,734.4 822.5,723.6 833.5,697.9 843.5,685.5 853.5,670.6 863.5,648.2 873.5,631.1 883.5,626.3 893.5,638.2 903.5,646.5 913.5,644.5 923.5,636.2 933.5,631.3 943.5,638.2 953.5,647.3 963.5,660.6 973.5,671.7 983.5,674.4 994.5,686.3 1004.5,689.6 1014.5,685.5 1024.5,688.5 1034.5,673.0 1044.5,663.4 1054.5,716.0 1064.5,752.4 1074.5,729.7 1084.5,709.7 1094.5,686.5 1104.5,658.1 1114.5,623.4 1124.5,606.6 1134.5,604.5 1144.5,620.3 1155.5,628.2 1165.5,623.2 1175.5,625.3 1185.5,646.9 1195.5,669.3 1205.5,675.2 1215.5,678.4 1225.5,676.3 1235.5,659.5 1245.5,652.4 1255.5,664.7 1265.5,675.2 1275.5,679.4 1285.5,692.3 1295.5,703.7 1305.5,682.2" fill="none" stroke="#00eaea" stroke-width="1.15" stroke-linejoin="round"/>
<polyline points="8.5,652.3 18.5,657.0 28.5,658.9 38.5,661.2 48.5,661.5 58.5,659.3 68.5,661.6 78.5,665.4 88.5,668.2 98.5,670.1 108.5,671.4 118.5,669.5 128.5,665.4 138.5,658.5 148.5,651.4 158.5,646.3 168.5,644.5 179.5,643.4 189.5,643.3 199.5,642.5 209.5,642.5 219.5,642.5 229.5,642.5 239.5,641.5 249.5,642.5 259.5,642.5 269.5,651.5 279.5,668.0 289.5,685.3 299.5,696.1 309.5,699.6 319.5,697.0 329.5,692.2 340.5,684.4 350.5,680.1 360.5,677.2 370.5,674.9 380.5,673.4 390.5,674.5 400.5,676.3 410.5,676.3 420.5,673.3 430.5,665.0 440.5,658.0 450.5,650.4 460.5,640.6 470.5,636.6 480.5,637.6 490.5,644.0 501.5,650.6 511.5,655.5 521.5,660.5 531.5,656.3 541.5,642.4 551.5,631.3 561.5,624.7 571.5,623.3 581.5,626.3 591.5,630.5 601.5,635.5 611.5,639.3 621.5,643.4 631.5,646.6 641.5,651.5 651.5,658.2 662.5,663.5 672.5,667.7 682.5,671.0 692.5,673.9 702.5,675.2 712.5,674.4 722.5,672.5 732.5,669.4 742.5,663.1 752.5,656.0 762.5,649.8 772.5,645.2 782.5,642.3 792.5,646.0 802.5,657.3 812.5,672.2 822.5,682.7 833.5,690.1 843.5,692.4 853.5,691.3 863.5,686.3 873.5,677.2 883.5,667.7 893.5,658.4 903.5,653.6 913.5,648.7 923.5,643.4 933.5,639.4 943.5,638.2 953.5,639.5 963.5,643.5 973.5,648.7 983.5,654.0 994.5,660.3 1004.5,667.2 1014.5,672.2 1024.5,677.2 1034.5,678.3 1044.5,677.5 1054.5,684.1 1064.5,697.1 1074.5,705.1 1084.5,708.2 1094.5,706.1 1104.5,699.2 1114.5,686.5 1124.5,671.8 1134.5,656.4 1144.5,646.1 1155.5,638.6 1165.5,631.2 1175.5,626.5 1185.5,627.5 1195.5,633.5 1205.5,642.2 1215.5,650.3 1225.5,657.4 1235.5,660.2 1245.5,661.6 1255.5,664.0 1265.5,666.8 1275.5,669.6 1285.5,673.5 1295.5,679.4 1305.5,680.8" fill="none" stroke="#fa7292" stroke-width="1.15" stroke-linejoin="round"/>
<rect x="2.5" y="539.5" width="191" height="19" fill="none" stroke="#ff0000" stroke-width="3" shape-rendering="crispEdges"/>
<polygon points="772.3,59.5 775.5,52 780,52" fill="#d2d2d2"/>
<rect x="767" y="31" width="76" height="21" rx="5" ry="5" fill="#e4e4e4"/>
<polygon points="8.5,479.5 11.5,487 16.5,487" fill="#d2d2d2"/>
<rect x="3" y="487" width="78" height="21" rx="5" ry="5" fill="#e4e4e4"/>
<rect x="1316" y="247" width="52" height="17" rx="4" fill="#0bc035"/>
<rect x="1316" y="671" width="49" height="17" rx="4" fill="#ff7a93"/>
<circle cx="13" cy="11.7" r="7.3" fill="none" stroke="#dcdcdc" stroke-width="1.6"/>
<rect x="12.1" y="7" width="1.8" height="5.8" fill="#e6e6e6"/><rect x="12.1" y="14.2" width="1.8" height="2" fill="#e6e6e6"/>
<circle cx="1183.5" cy="789" r="7" fill="none" stroke="#e8e8e8" stroke-width="1.4"/>
<circle cx="1205.4" cy="789.2" r="7" fill="none" stroke="#3c3c3c" stroke-width="1.4"/>
<rect x="1235.3" y="782.5" width="1.6" height="1.5" fill="#e0e0e0"/>
<g font-family="Liberation Sans, sans-serif" font-size="12.5px">
<text x="1316.3" y="38.5" fill="#a9a9a9" text-anchor="start" >3030</text>
<text x="1316.3" y="105.5" fill="#a9a9a9" text-anchor="start" >3025</text>
<text x="1316.3" y="172.5" fill="#a9a9a9" text-anchor="start" >3020</text>
<text x="1316.3" y="240.5" fill="#a9a9a9" text-anchor="start" >3015</text>
<text x="1316.3" y="307.5" fill="#a9a9a9" text-anchor="start" >3010</text>
<text x="1316.3" y="374.5" fill="#a9a9a9" text-anchor="start" >3005</text>
<text x="1316.3" y="441.5" fill="#a9a9a9" text-anchor="start" >3000</text>
<text x="1316.3" y="508.5" fill="#a9a9a9" text-anchor="start" >2995</text>
<text x="1316.3" y="592.5" fill="#a9a9a9" text-anchor="start" >4</text>
<text x="1316.3" y="629.5" fill="#a9a9a9" text-anchor="start" >2</text>
<text x="1316.3" y="666.5" fill="#a9a9a9" text-anchor="start" >0</text>
<text x="1316.3" y="703.5" fill="#a9a9a9" text-anchor="start" >-2</text>
<text x="1316.3" y="741.5" fill="#a9a9a9" text-anchor="start" >-4</text>
<text x="23.7" y="775.1" fill="#a9a9a9" text-anchor="start" >17</text>
<text x="63.7" y="775.1" fill="#a9a9a9" text-anchor="start" >18</text>
<text x="103.7" y="775.1" fill="#a9a9a9" text-anchor="start" >19</text>
<text x="143.7" y="775.1" fill="#a9a9a9" text-anchor="start" >20</text>
<text x="184.7" y="775.1" fill="#a9a9a9" text-anchor="start" >21</text>
<text x="224.7" y="775.1" fill="#a9a9a9" text-anchor="start" >22</text>
<text x="264.7" y="775.1" fill="#a9a9a9" text-anchor="start" >Thu</text>
<text x="314.7" y="775.1" fill="#a9a9a9" text-anchor="start" >17</text>
<text x="355.7" y="775.1" fill="#a9a9a9" text-anchor="start" >18</text>
<text x="395.7" y="775.1" fill="#a9a9a9" text-anchor="start" >19</text>
<text x="435.7" y="775.1" fill="#a9a9a9" text-anchor="start" >20</text>
<text x="475.7" y="775.1" fill="#a9a9a9" text-anchor="start" >21</text>
<text x="526.7" y="775.1" fill="#a9a9a9" text-anchor="start" >Fri</text>
<text x="566.7" y="775.1" fill="#a9a9a9" text-anchor="start" >17</text>
<text x="606.7" y="775.1" fill="#a9a9a9" text-anchor="start" >18</text>
<text x="646.7" y="775.1" fill="#a9a9a9" text-anchor="start" >19</text>
<text x="687.7" y="775.1" fill="#a9a9a9" text-anchor="start" >20</text>
<text x="727.7" y="775.1" fill="#a9a9a9" text-anchor="start" >21</text>
<text x="787.7" y="775.1" fill="#a9a9a9" text-anchor="start" >Mon</text>
<text x="838.7" y="775.1" fill="#a9a9a9" text-anchor="start" >17</text>
<text x="878.7" y="775.1" fill="#a9a9a9" text-anchor="start" >18</text>
<text x="918.7" y="775.1" fill="#a9a9a9" text-anchor="start" >19</text>
<text x="958.7" y="775.1" fill="#a9a9a9" text-anchor="start" >20</text>
<text x="999.7" y="775.1" fill="#a9a9a9" text-anchor="start" >21</text>
<text x="1049.7" y="775.1" fill="#a9a9a9" text-anchor="start" >Tue</text>
<text x="1099.7" y="775.1" fill="#a9a9a9" text-anchor="start" >17</text>
<text x="1139.7" y="775.1" fill="#a9a9a9" text-anchor="start" >18</text>
<text x="1180.7" y="775.1" fill="#a9a9a9" text-anchor="start" >19</text>
<text x="1220.7" y="775.1" fill="#a9a9a9" text-anchor="start" >20</text>
<text x="1260.7" y="775.1" fill="#a9a9a9" text-anchor="start" >21</text>
<text x="1300.7" y="775.1" fill="#a9a9a9" text-anchor="start" >22</text>
<text x="1319.2" y="260" fill="#ffffff" text-anchor="start" >3013.42</text>
<text x="1319.2" y="684" fill="#111111" text-anchor="start" >-1.0325</text>
<text x="773.3" y="47.9" fill="#222222" text-anchor="start" >Hi: 3027.98</text>
<text x="9.4" y="503.9" fill="#222222" text-anchor="start" >Lo: 2996.82</text>
<text x="4.2" y="553" fill="#f08080" text-anchor="start" textLength="184" lengthAdjust="spacing">VossPredictiveFilter (20, 3, 0.25)</text>
<text x="198" y="553" fill="#f27f7f" text-anchor="start" >-1.03253</text>
<text x="256" y="553" fill="#00dcdc" text-anchor="start" >-1.11236</text>
</g>
</svg>
</body></html>
